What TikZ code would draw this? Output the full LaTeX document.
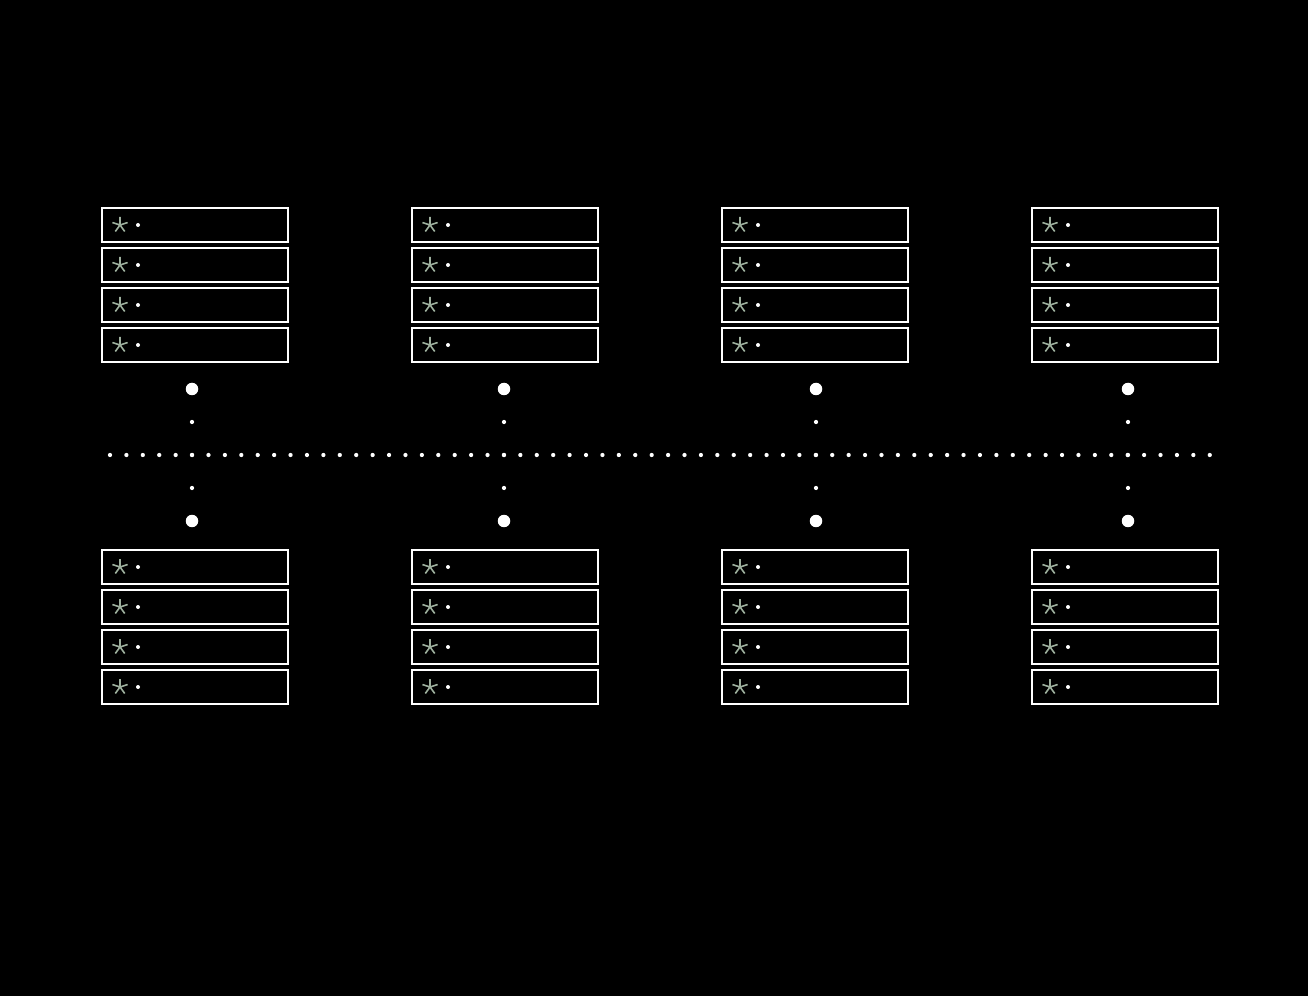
\documentclass[tikz,border=0pt]{standalone}
\usetikzlibrary{positioning}
\definecolor{starcol}{RGB}{158,176,158}

\tikzset{
  slot/.style={draw=white, fill=black, line width=0.04cm, minimum width=3.72cm,
    minimum height=0.68cm, inner sep=0pt, outer sep=0pt},
  bigdot/.style={circle, fill=white, minimum size=0.25cm, inner sep=0pt},
  dotrow/.style={white, line width=0.085cm, line cap=round, dash pattern=on 0cm off #1}
}

\begin{document}
\begin{tikzpicture}[x=0.02cm, y=-0.02cm]
    % Background and page size
    \fill[black] (0,0) rectangle (1308,996);
    \useasboundingbox (0,0) rectangle (1308,996);

    % Stacks of slots, four above and four below
    \foreach \c/\x in {1/195, 2/505, 3/815, 4/1125} {
      \foreach \r/\y in {1/225, 2/265, 3/305, 4/345} {
        \node[slot] (up\c\r) at (\x,\y) {};
        \draw[starcol, line width=0.032cm]
          \foreach \a in {270,342,54,126,198} { ([xshift=0.36cm]up\c\r.west) -- ++(\a:8) };
        \fill[white] ([xshift=0.72cm]up\c\r.west) circle (2);
      }
      \foreach \r/\y in {1/567, 2/607, 3/647, 4/687} {
        \node[slot] (dn\c\r) at (\x,\y) {};
        \draw[starcol, line width=0.032cm]
          \foreach \a in {270,342,54,126,198} { ([xshift=0.36cm]dn\c\r.west) -- ++(\a:8) };
        \fill[white] ([xshift=0.72cm]dn\c\r.west) circle (2);
      }
    }

    % Horizontal dotted line
    \coordinate (left) at (110,455);
    \coordinate (right) at (1210,455);
    \draw[dotrow=0.32836cm] (left) -- (right);

    % Big dots and the dotted links between them
    \foreach \c/\x in {1/192, 2/504, 3/816, 4/1128} {
      \node[bigdot] (top\c) at (\x,389) {};
      \node[bigdot] (bot\c) at (\x,521) {};
      \draw[dotrow=0.66cm] (top\c.center) -- (bot\c.center);
    }
\end{tikzpicture}
\end{document}
